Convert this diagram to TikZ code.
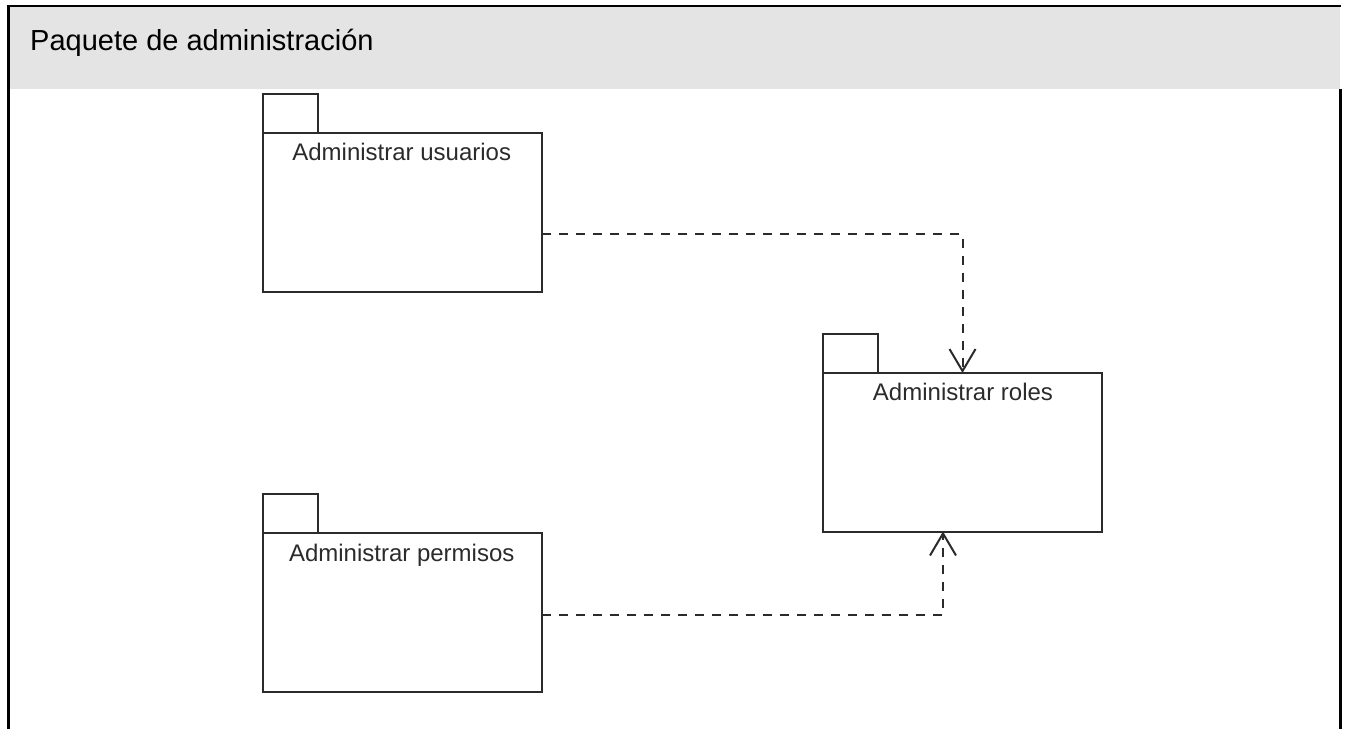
\documentclass[tikz,border=0pt]{standalone}
\usepackage{fontspec}
\setmainfont{Liberation Sans}
\usetikzlibrary{arrows.meta,calc}
\definecolor{headgray}{HTML}{E4E4E4}
\definecolor{ink}{HTML}{2B2B2B}
\tikzset{
  pkgbody/.style={draw=ink, line width=2pt, minimum width=279pt, minimum height=158.5pt,
    inner sep=0pt, outer sep=0pt, anchor=north west},
  pkgtab/.style={draw=ink, line width=2pt, minimum width=55pt, minimum height=39.5pt,
    inner sep=0pt, outer sep=0pt, anchor=south west},
  pkgname/.style={font=\fontsize{24}{28}\selectfont, text=ink, anchor=base, inner sep=0pt},
  depend/.style={draw=ink, line width=2pt, dash pattern=on 9pt off 8pt,
    -{Straight Barb[length=22pt,width=26pt,line width=2pt]}},
  frameline/.style={line width=2.5pt, black, line join=miter},
}
\begin{document}
\begin{tikzpicture}[x=1pt, y=-1pt]
  \useasboundingbox (0,0) rectangle (1346,729);

  % frame with grey title band
  \fill[headgray] (9,7) rectangle (1340,89);
  \draw[frameline] (8.5,729) -- (8.5,6) -- (1340.7,6);
  \draw[frameline] (1340.7,89) -- (1340.7,729);
  \node[font=\fontsize{29}{34}\selectfont, anchor=base west, inner sep=0pt]
    (title) at (30,50) {Paquete de administración};

  % packages
  \node[pkgbody] (usuarios) at (263,133.3) {};
  \node[pkgtab] (usuarios-tab) at (usuarios.north west) {};
  \node[pkgname] (usuarios-name) at (401.7,160) {Administrar usuarios};

  \node[pkgbody] (roles) at (823,373) {};
  \node[pkgtab] (roles-tab) at (roles.north west) {};
  \node[pkgname] (roles-name) at (963,400) {Administrar roles};

  \node[pkgbody] (permisos) at (263,533.3) {};
  \node[pkgtab] (permisos-tab) at (permisos.north west) {};
  \node[pkgname] (permisos-name) at (401.7,561.5) {Administrar permisos};

  % dependencies
  \draw[depend] ([yshift=-21.5pt]usuarios.east) -| (roles.north);
  \draw[depend] ([yshift=-2pt]permisos.east) -| ([xshift=-19.5pt]roles.south);
\end{tikzpicture}
\end{document}
